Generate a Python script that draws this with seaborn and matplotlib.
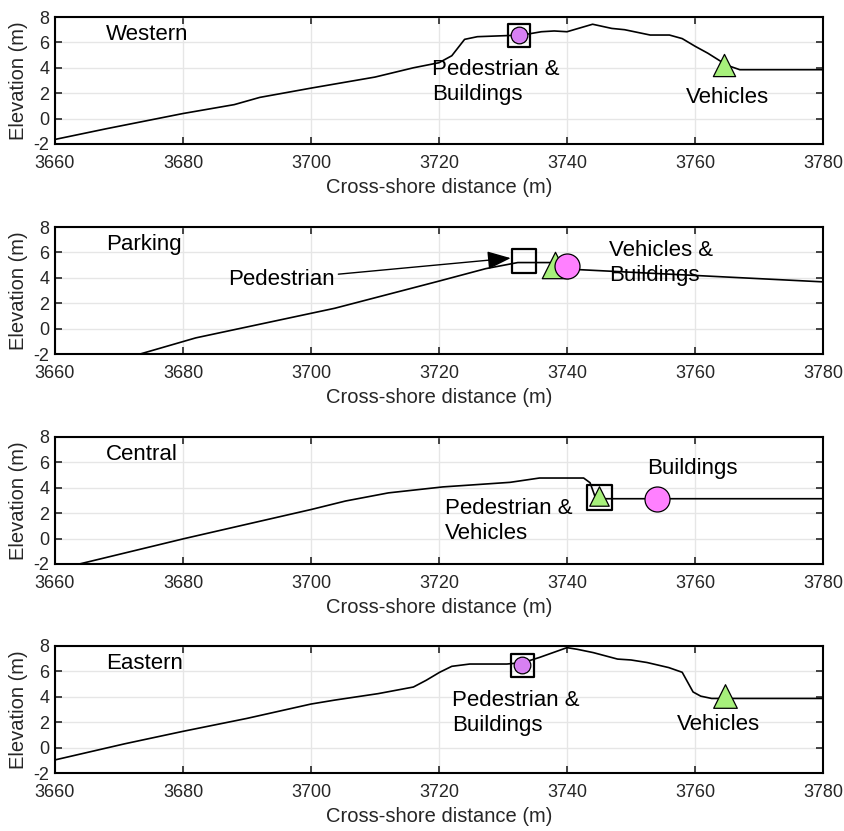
import matplotlib
matplotlib.use("Agg")
import matplotlib.pyplot as plt
import seaborn as sns
import pandas as pd

# ---------------- data ----------------
xlim = (3660, 3780)
ylim = (-2, 8)
xticks = [3660, 3680, 3700, 3720, 3740, 3760, 3780]
yticks = [-2, 0, 2, 4, 6, 8]

panel_names = ["Western", "Parking", "Central", "Eastern"]

western_x = [3660, 3668, 3680, 3688, 3692, 3700, 3710, 3716, 3720, 3722, 3724, 3726,
             3733, 3736, 3738, 3740, 3744, 3747, 3749, 3753, 3756, 3758, 3760, 3762,
             3765, 3767, 3780]
western_y = [-1.64, -0.8, 0.4, 1.1, 1.67, 2.4, 3.27, 4.0, 4.4, 4.95, 6.24, 6.45,
             6.58, 6.84, 6.9, 6.84, 7.43, 7.1, 7.0, 6.58, 6.58, 6.3, 5.7, 5.15,
             4.2, 3.85, 3.85]

parking_x = [3673.3, 3682, 3703.7, 3720, 3727.3, 3732.3, 3737.4, 3742, 3780]
parking_y = [-2.0, -0.73, 1.6, 3.74, 4.72, 5.2, 5.2, 4.64, 3.68]

central_x = [3663.8, 3680.2, 3700.1, 3705.4, 3712.1, 3720.6, 3731.1, 3735.7, 3742.6,
             3743.6, 3744.5, 3747, 3780]
central_y = [-2.0, 0.0, 2.3, 2.96, 3.6, 4.07, 4.43, 4.77, 4.77, 4.4, 3.14, 3.14, 3.14]

eastern_x = [3660, 3670.9, 3680, 3690, 3700, 3703.7, 3710.5, 3716, 3718, 3720.1, 3722,
             3724.8, 3730.6, 3733.2, 3735.7, 3740, 3741.6, 3744.1, 3747.9, 3750, 3752.5,
             3755.9, 3758, 3759.7, 3760.9, 3762.6, 3780]
eastern_y = [-0.97, 0.3, 1.28, 2.3, 3.43, 3.74, 4.25, 4.77, 5.3, 5.93, 6.4, 6.58, 6.58,
             6.7, 7.1, 7.87, 7.74, 7.48, 6.97, 6.9, 6.7, 6.3, 5.93, 4.38, 4.05, 3.87, 3.87]

# marker positions (x, y) per panel
pedestrian_pts = [(3732.5, 6.55), (3733.3, 5.3), (3745.0, 3.2), (3733.0, 6.5)]
vehicle_pts = [(3764.5, 4.2), (3738.2, 5.0), (3745.0, 3.35), (3764.7, 4.1)]
building_pts = [(3732.5, 6.55), (3740.0, 4.95), (3754.0, 3.14), (3733.0, 6.5)]

# label texts
labels_w = ["Pedestrian &\nBuildings", "Vehicles"]
labels_p = ["Pedestrian", "Vehicles &\nBuildings"]
labels_c = ["Pedestrian &\nVehicles", "Buildings"]
labels_e = ["Pedestrian &\nBuildings", "Vehicles"]

# ---------------- style ----------------
sns.set_style("ticks")
plt.rcParams["font.family"] = ["Liberation Sans", "DejaVu Sans"]
plt.rcParams["axes.unicode_minus"] = False

W, H = 845, 831
fig = plt.figure(figsize=(W / 100, H / 100), dpi=100)

left = 55 / W
width = 768 / W
height = 127 / H
bottoms_px = [144, 354, 564, 773]

profiles = [(western_x, western_y), (parking_x, parking_y),
            (central_x, central_y), (eastern_x, eastern_y)]

green = "#a7f07b"
violet = "#d780f2"
pink = "#ff80ff"
circle_colors = [violet, pink, pink, violet]
sq_sizes = [16.5, 17, 18, 16.5]
tri_sizes = [16, 19, 14, 17]
circ_sizes = [12, 18, 18, 12]

text_fs = 16
axes = []
for i in range(4):
    b = 1 - bottoms_px[i] / H
    ax = fig.add_axes([left, b, width, height])
    axes.append(ax)
    px, py = profiles[i]
    df = pd.DataFrame({"x": px, "y": py})
    sns.lineplot(data=df, x="x", y="y", ax=ax, color="black", lw=1.2,
                 sort=False, estimator=None, zorder=3)

    # markers
    pdx, pdy = pedestrian_pts[i]
    vx, vy = vehicle_pts[i]
    bx, by = building_pts[i]
    sns.scatterplot(x=[pdx], y=[pdy], ax=ax, marker="s", s=sq_sizes[i] ** 2,
                    facecolor="none", edgecolor="black", linewidth=1.6, zorder=4)
    sns.scatterplot(x=[vx], y=[vy], ax=ax, marker="^", s=tri_sizes[i] ** 2,
                    color=green, edgecolor="black", linewidth=0.9, zorder=5)
    sns.scatterplot(x=[bx], y=[by], ax=ax, marker="o", s=circ_sizes[i] ** 2,
                    color=circle_colors[i], edgecolor="black", linewidth=0.9, zorder=6)

    ax.set_xlim(*xlim)
    ax.set_ylim(*ylim)
    ax.set_xticks(xticks)
    ax.set_yticks(yticks)
    ax.grid(True, color="#e6e6e6", lw=1.0, zorder=0)
    ax.set_axisbelow(True)
    for sp in ax.spines.values():
        sp.set_visible(True)
        sp.set_linewidth(1.5)
        sp.set_color("black")
    ax.tick_params(direction="in", top=True, right=True, length=5, width=1.2,
                   labelsize=13, labelcolor="#262626")
    ax.tick_params(axis="x", pad=8)
    ax.tick_params(axis="y", pad=4)
    ax.set_xlabel("Cross-shore distance (m)", fontsize=14.5, color="#262626", labelpad=4)
    ax.set_ylabel("Elevation (m)", fontsize=14.5, color="#262626", labelpad=4)

    ax.text(3668, 6.6, panel_names[i], fontsize=text_fs, va="center", ha="left",
            color="black", zorder=7)

# Western
axes[0].text(3718.9, 2.9, labels_w[0], fontsize=text_fs, va="center", ha="left",
             linespacing=1.25, color="black")
axes[0].text(3758.6, 1.67, labels_w[1], fontsize=text_fs, va="center", ha="left", color="black")
# Parking
axes[1].annotate(labels_p[0], xy=(3731.2, 5.55), xytext=(3687.1, 3.87),
                 fontsize=text_fs, va="center", ha="left", color="black",
                 arrowprops=dict(arrowstyle="-|>,head_length=0.9,head_width=0.35",
                                 color="black", lw=1.0, shrinkA=0, shrinkB=0),
                 zorder=7)
axes[1].text(3746.6, 5.16, labels_p[1], fontsize=text_fs, va="center", ha="left",
             linespacing=1.25, color="black")
# Central
axes[2].text(3721.0, 1.35, labels_c[0], fontsize=text_fs, va="center", ha="left",
             linespacing=1.25, color="black")
axes[2].text(3752.5, 5.55, labels_c[1], fontsize=text_fs, va="center", ha="left", color="black")
# Eastern
axes[3].text(3722.0, 2.73, labels_e[0], fontsize=text_fs, va="center", ha="left",
             linespacing=1.25, color="black")
axes[3].text(3757.1, 1.8, labels_e[1], fontsize=text_fs, va="center", ha="left", color="black")

fig.savefig("out.png", dpi=100)
